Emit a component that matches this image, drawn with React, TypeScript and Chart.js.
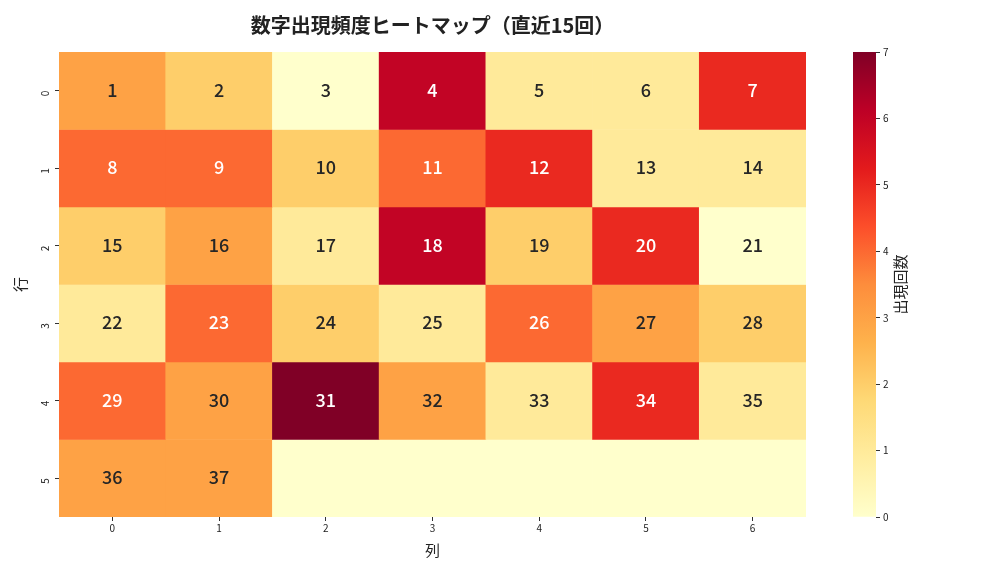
import React, { useEffect, useRef } from 'react';
import { Chart, registerables } from 'chart.js';

Chart.register(...registerables);

const FONT = '"Noto Sans CJK JP", "Noto Sans", sans-serif';

const titleText = '数字出現頻度ヒートマップ（直近15回）';
const xAxisTitle = '列';
const yAxisTitle = '行';
const colorbarTitle = '出現回数';

const columnLabels = ['0', '1', '2', '3', '4', '5', '6'];
const rowLabels = ['0', '1', '2', '3', '4', '5'];

const cellNumbers: (number | null)[][] = [
  [1, 2, 3, 4, 5, 6, 7],
  [8, 9, 10, 11, 12, 13, 14],
  [15, 16, 17, 18, 19, 20, 21],
  [22, 23, 24, 25, 26, 27, 28],
  [29, 30, 31, 32, 33, 34, 35],
  [36, 37, null, null, null, null, null],
];

const counts: number[][] = [
  [3, 2, 0, 6, 1, 1, 5],
  [4, 4, 2, 4, 5, 1, 1],
  [2, 3, 1, 6, 2, 5, 0],
  [1, 4, 2, 1, 4, 3, 2],
  [4, 3, 7, 3, 1, 5, 1],
  [3, 3, 0, 0, 0, 0, 0],
];

const colorbarTicks = [0, 1, 2, 3, 4, 5, 6, 7];
const vmin = 0;
const vmax = 7;
const ylorrd = ['#ffffcc', '#ffeda0', '#fed976', '#feb24c', '#fd8d3c', '#fc4e2a', '#e31a1c', '#bd0026', '#800026'];

function hexToRgb(h: string) {
  const n = parseInt(h.slice(1), 16);
  return [(n >> 16) & 255, (n >> 8) & 255, n & 255];
}

function colorFor(v: number) {
  const t = Math.max(0, Math.min(1, (v - vmin) / (vmax - vmin)));
  const pos = t * (ylorrd.length - 1);
  const i = Math.min(Math.floor(pos), ylorrd.length - 2);
  const f = pos - i;
  const a = hexToRgb(ylorrd[i]);
  const b = hexToRgb(ylorrd[i + 1]);
  const c = a.map((x, k) => Math.round(x + (b[k] - x) * f));
  return `rgb(${c[0]},${c[1]},${c[2]})`;
}

const cellTextPlugin = {
  id: 'cellText',
  afterDatasetsDraw(chart: any) {
    const ctx = chart.ctx;
    ctx.save();
    ctx.font = `500 18px ${FONT}`;
    ctx.textAlign = 'center';
    ctx.textBaseline = 'middle';
    chart.data.datasets.forEach((_: any, ri: number) => {
      const meta = chart.getDatasetMeta(ri);
      meta.data.forEach((bar: any, ci: number) => {
        const n = cellNumbers[ri][ci];
        if (n === null || n === undefined) return;
        const p = bar.getProps(['x', 'y', 'base'], true);
        ctx.fillStyle = counts[ri][ci] >= 4 ? '#ffffff' : '#262626';
        ctx.fillText(String(n), p.x, (p.y + p.base) / 2 - 1);
      });
    });
    ctx.restore();
  },
};

const colorbarLabelPlugin = {
  id: 'cbLabel',
  afterDraw(chart: any) {
    const ctx = chart.ctx;
    const area = chart.chartArea;
    ctx.save();
    ctx.font = `15px ${FONT}`;
    ctx.fillStyle = '#222';
    ctx.textAlign = 'center';
    ctx.textBaseline = 'middle';
    ctx.translate(area.right + 24, (area.top + area.bottom) / 2);
    ctx.rotate(-Math.PI / 2);
    ctx.fillText(colorbarTitle, 0, 0);
    ctx.restore();
  },
};

export default function App() {
  const mainRef = useRef<HTMLCanvasElement>(null);
  const cbRef = useRef<HTMLCanvasElement>(null);

  useEffect(() => {
    Chart.defaults.font.family = FONT;
    const main = new Chart(mainRef.current as HTMLCanvasElement, {
      type: 'bar',
      data: {
        labels: columnLabels,
        datasets: rowLabels.map((r, ri) => ({
          label: 'row ' + r,
          data: columnLabels.map(() => [ri - 0.5, ri + 0.5]),
          backgroundColor: counts[ri].map(colorFor),
          borderWidth: 0,
          grouped: false,
          barPercentage: 1,
          categoryPercentage: 1,
        })) as any,
      },
      options: {
        animation: false,
        responsive: false,
        maintainAspectRatio: false,
        layout: { padding: { left: 0, right: 202, top: 0, bottom: 0 } },
        plugins: {
          legend: { display: false },
          tooltip: { enabled: false },
          title: {
            display: true,
            text: titleText,
            fullSize: false,
            color: '#222',
            font: { size: 20, weight: 'bold', family: FONT },
            padding: { top: 13, bottom: 15 },
          },
        },
        scales: {
          x: {
            type: 'category',
            grid: { offset: false, drawOnChartArea: false, drawTicks: true, tickLength: 4, color: '#333' },
            border: { display: false },
            ticks: { font: { size: 10 }, color: '#222', padding: 1, maxRotation: 0 },
            title: { display: true, text: xAxisTitle, color: '#222', font: { size: 15 }, padding: { top: 17, bottom: 17 } },
            afterFit: (s: any) => {
              s.height = 59;
            },
          },
          y: {
            type: 'linear',
            reverse: true,
            min: -0.5,
            max: 5.5,
            afterBuildTicks: (s: any) => {
              s.ticks = rowLabels.map((_, i) => ({ value: i }));
            },
            grid: { drawOnChartArea: false, drawTicks: true, tickLength: 4, color: '#333' },
            border: { display: false },
            ticks: {
              callback: (v: any) => rowLabels[v] ?? '',
              minRotation: 90,
              maxRotation: 90,
              font: { size: 10 },
              color: '#222',
              padding: 10,
            },
            title: { display: true, text: yAxisTitle, color: '#222', font: { size: 15 }, padding: { top: 11, bottom: 0 } },
            afterFit: (s: any) => {
              s.width = 59;
            },
          },
        },
      } as any,
      plugins: [cellTextPlugin],
    });

    const cb = new Chart(cbRef.current as HTMLCanvasElement, {
      type: 'bar',
      data: {
        labels: ['cb'],
        datasets: [
          {
            data: [[vmin, vmax]] as any,
            backgroundColor: (c: any) => {
              const chart = c.chart;
              const ys = chart.scales.y;
              if (!chart.chartArea || !ys) return ylorrd[0];
              const g = chart.ctx.createLinearGradient(0, ys.getPixelForValue(vmin), 0, ys.getPixelForValue(vmax));
              ylorrd.forEach((col, i) => g.addColorStop(i / (ylorrd.length - 1), col));
              return g;
            },
            borderWidth: 0,
            barPercentage: 1,
            categoryPercentage: 1,
          },
        ],
      },
      options: {
        animation: false,
        responsive: false,
        maintainAspectRatio: false,
        layout: { padding: { left: 33, right: 0, top: 52, bottom: 59 } },
        plugins: { legend: { display: false }, tooltip: { enabled: false }, title: { display: false } },
        scales: {
          x: { display: false },
          y: {
            position: 'right',
            min: vmin,
            max: vmax,
            afterBuildTicks: (s: any) => {
              s.ticks = colorbarTicks.map((v) => ({ value: v }));
            },
            ticks: { font: { size: 10 }, color: '#222', padding: 3 },
            grid: { drawOnChartArea: false, drawTicks: true, tickLength: 4, color: '#333' },
            border: { display: false },
            afterFit: (s: any) => {
              s.width = 132;
            },
          },
        },
      } as any,
      plugins: [colorbarLabelPlugin],
    });

    return () => {
      main.destroy();
      cb.destroy();
    };
  }, []);

  return (
    <div style={{ position: 'absolute', left: 0, top: 0, width: 1008, height: 576, background: '#fff' }}>
      <canvas ref={mainRef} width={1008} height={576} style={{ position: 'absolute', left: 0, top: 0, display: 'block' }} />
      <canvas ref={cbRef} width={188} height={576} style={{ position: 'absolute', left: 820, top: 0, display: 'block' }} />
    </div>
  );
}
